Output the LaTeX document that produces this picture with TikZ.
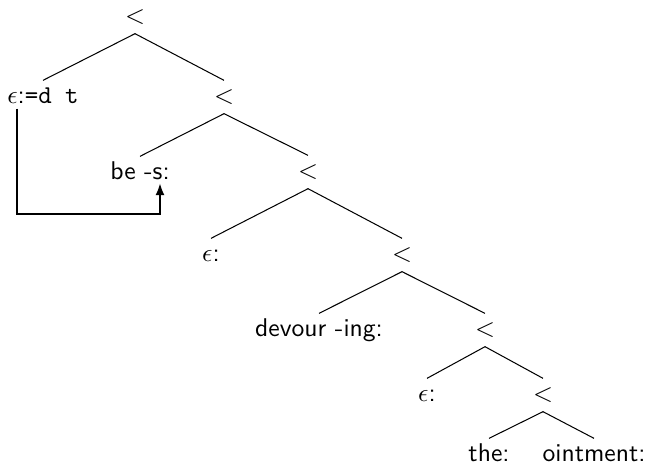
\documentclass[tikz,border=0pt]{standalone}
\usetikzlibrary{arrows.meta}

\begin{document}
\begin{tikzpicture}[x=0.39pt, y=-0.39pt, font=\sffamily,
    >={Latex[length=4.5pt,width=3.5pt]},
    every node/.style={text height=7pt, text depth=2pt, inner sep=1.8pt}]

  \useasboundingbox (0,0) rectangle (649,467);

  % merge nodes
  \node (m0) at (135, 17) {$<$};
  \node (m1) at (224, 97) {$<$};
  \node (m2) at (308,172) {$<$};
  \node (m3) at (402,255) {$<$};
  \node (m4) at (485,330) {$<$};
  \node (m5) at (543,395) {$<$};

  % lexical items
  \node (trace)  at ( 43, 97) {$\epsilon$:\texttt{=d t}};
  \node (be)     at (140,173) {be -s:};
  \node (eps1)   at (211,255) {$\epsilon$:};
  \node (devour) at (319,330) {devour -ing:};
  \node (eps2)   at (427,395) {$\epsilon$:};
  \node (the)    at (489,455) {the:};
  \node (oint)   at (594,455) {ointment:};

  % tree edges
  \draw (m0.south) -- (trace.north);
  \draw (m0.south) -- (m1.north);
  \draw (m1.south) -- (be.north);
  \draw (m1.south) -- (m2.north);
  \draw (m2.south) -- (eps1.north);
  \draw (m2.south) -- (m3.north);
  \draw (m3.south) -- (devour.north);
  \draw (m3.south) -- (m4.north);
  \draw (m4.south) -- (eps2.north);
  \draw (m4.south) -- (m5.north);
  \draw (m5.south) -- (the.north);
  \draw (m5.south) -- (oint.north);

  % movement arrow
  \coordinate (turn) at (17,214);
  \draw[->] ([shift={(-26,-5)}]trace.south) -- (turn)
    -| ([shift={(20,-6)}]be.south);

\end{tikzpicture}
\end{document}
